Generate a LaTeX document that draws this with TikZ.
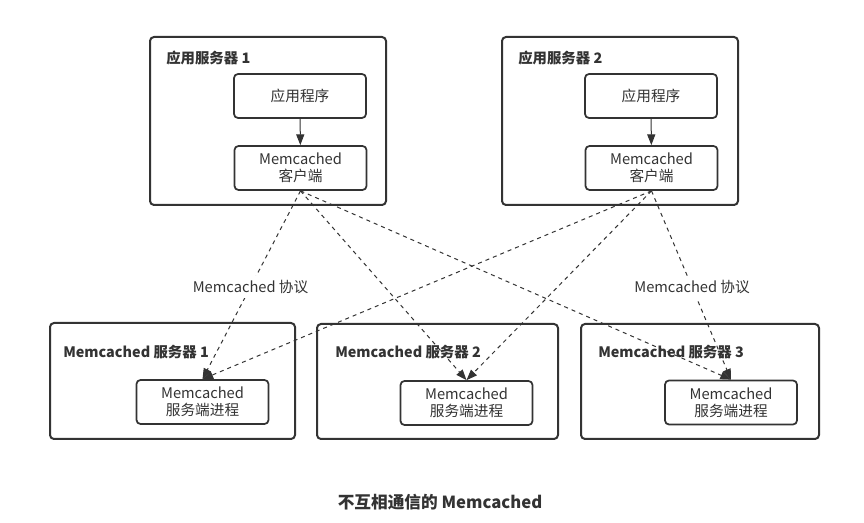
\documentclass[tikz,border=0pt]{standalone}
\usepackage{fontspec}
\setmainfont{Noto Sans CJK SC}
\usetikzlibrary{arrows.meta}
\definecolor{edge}{HTML}{333333}
\definecolor{txt}{HTML}{333333}

\begin{document}
\begin{tikzpicture}[x=0.75pt,y=-0.75pt,
  host/.style={draw=edge,line width=1.5pt,rounded corners=3pt,inner sep=0pt},
  proc/.style={draw=edge,line width=1.3pt,rounded corners=3pt,minimum width=99pt,
    minimum height=33pt,align=center,inner sep=0pt,text=txt,
    font=\fontsize{11}{12.75}\selectfont},
  hostname/.style={anchor=west,inner sep=0pt,text=txt,
    font=\bfseries\fontsize{10.8}{12}\selectfont},
  call/.style={-{Triangle[length=8pt,width=6pt]},draw=edge,line width=0.75pt},
  proto/.style={call,dash pattern=on 3pt off 3pt}]
  \fill[white] (0,0) rectangle (864,523);
  \useasboundingbox (0,0) rectangle (864,523);

  \node[host,minimum width=177pt,minimum height=126pt] (h1) at (268,121) {};
  \node[host,minimum width=177pt,minimum height=126pt] (h2) at (620,121) {};
  \node[hostname] (h1l) at (166,58) {应用服务器 1};
  \node[hostname] (h2l) at (518,58) {应用服务器 2};
  \node[proc] (app1) at (300,96) {应用程序};
  \node[proc] (cli1) at (300.5,168) {Memcached\\客户端};
  \node[proc] (app2) at (651,96) {应用程序};
  \node[proc] (cli2) at (651.5,168) {Memcached\\客户端};

  \node[host,minimum width=183.75pt,minimum height=87pt] (s1) at (172.5,381) {};
  \node[host,minimum width=180.75pt,minimum height=86.25pt] (s2) at (437.5,381.5) {};
  \node[host,minimum width=178.5pt,minimum height=86.25pt] (s3) at (700,381.5) {};
  \node[hostname] (s1l) at (63,352) {Memcached 服务器 1};
  \node[hostname] (s2l) at (335,352) {Memcached 服务器 2};
  \node[hostname] (s3l) at (598,352) {Memcached 服务器 3};
  \node[proc] (srv1) at (202.5,402) {Memcached\\服务端进程};
  \node[proc] (srv2) at (466.5,403) {Memcached\\服务端进程};
  \node[proc] (srv3) at (731,402.5) {Memcached\\服务端进程};

  \draw[call] (app1) -- (cli1);
  \draw[call] (app2) -- (cli2);

  \draw[proto] (cli1.south) -- node[pos=0.51,fill=white,text=txt,
    font=\fontsize{11}{12}\selectfont] {Memcached 协议} (srv1.north);
  \draw[proto] (cli1.south) -- (srv2.north);
  \draw[proto] (cli1.south) -- (srv3.north);
  \draw[proto] (cli2.south) -- (srv1.north);
  \draw[proto] (cli2.south) -- (srv2.north);
  \draw[proto] (cli2.south) -- node[pos=0.51,fill=white,text=txt,
    font=\fontsize{11}{12}\selectfont] {Memcached 协议} (srv3.north);

  \node[text=txt,font=\bfseries\fontsize{12.5}{14}\selectfont] (cap) at (440,502)
    {不互相通信的 Memcached};
\end{tikzpicture}
\end{document}
